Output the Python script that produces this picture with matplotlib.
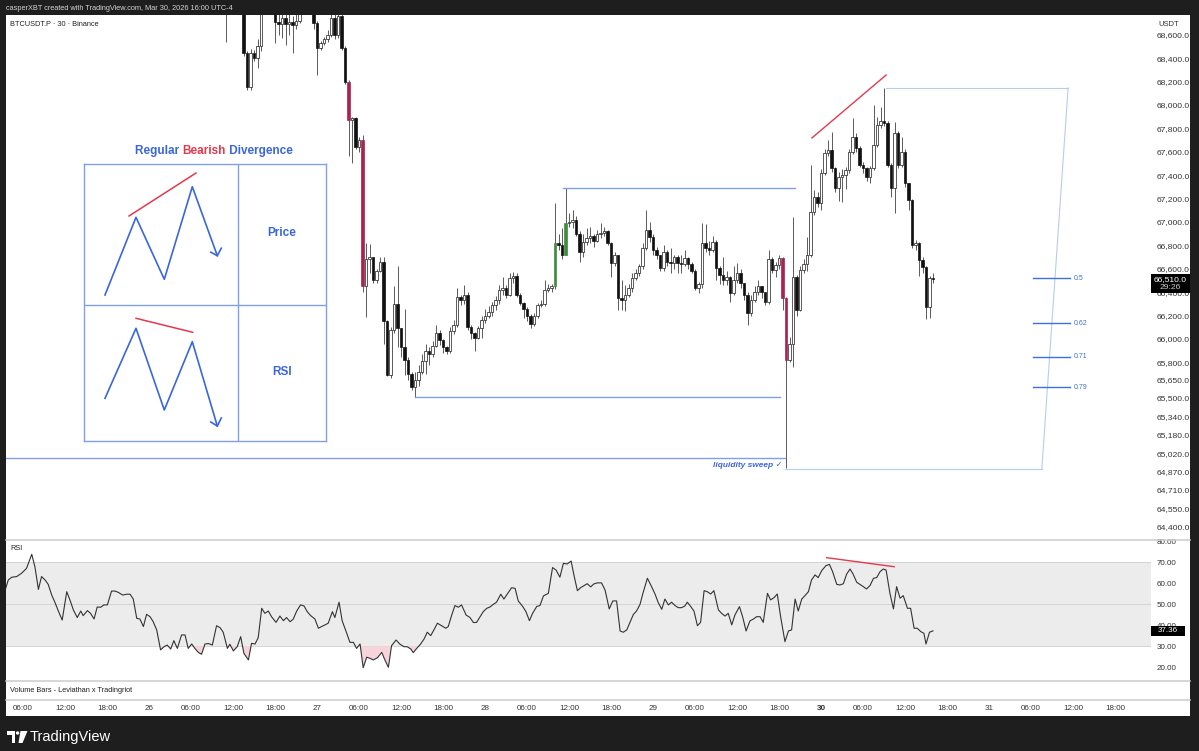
import matplotlib
matplotlib.use("Agg")
import matplotlib.pyplot as plt
from matplotlib.patches import Rectangle, Polygon, Circle
from matplotlib.lines import Line2D
from matplotlib.transforms import Affine2D
import numpy as np

plt.rcParams['font.family'] = ['Liberation Sans', 'DejaVu Sans']

W, H = 1199, 751

# bar index = half hours since Mar 25 00:00 (30m candles)
first_bar = 70
first_open = 68850
closes = [
    68800, 68900, 68950, 68900, 68850, 68440, 68150, 68440, 68400, 68500,
    68780, 68880, 68920, 68850, 68710, 68690, 68740, 68690, 68710, 68680,
    68720, 68800, 68850, 68900, 68880, 68700, 68490, 68530, 68560, 68600,
    68740, 68600, 68760, 68490, 68200, 67870, 67890, 67640, 67700, 66450,
    66680, 66700, 66500, 66580, 66660, 66150, 65690, 66080, 66300, 66090,
    65930, 65820, 65700, 65590, 65650, 65720, 65810, 65900, 65870, 65940,
    66050, 65990, 65930, 65900, 66070, 66120, 66360, 66330, 66380, 66100,
    66050, 66010, 66090, 66160, 66200, 66230, 66290, 66330, 66420, 66440,
    66380, 66520, 66540, 66380, 66310, 66260, 66200, 66130, 66200, 66290,
    66300, 66420, 66440, 66450, 66820, 66800, 66720, 66990, 67000, 67020,
    66900, 66740, 66830, 66860, 66880, 66840, 66900, 66910, 66920, 66820,
    66650, 66720, 66350, 66330, 66380, 66440, 66520, 66560, 66620, 66780,
    66930, 66870, 66760, 66720, 66610, 66740, 66660, 66650, 66700, 66650,
    66640, 66690, 66640, 66580, 66440, 66470, 66820, 66780, 66760, 66830,
    66610, 66550, 66500, 66530, 66390, 66500, 66560, 66480, 66380, 66220,
    66330, 66400, 66450, 66400, 66320, 66680, 66590, 66630, 66690, 66350,
    65820, 65960, 66530, 66250, 66590, 66640, 66720, 67085, 67210, 67160,
    67420, 67590, 67615, 67460, 67290, 67385, 67400, 67445, 67600, 67725,
    67630, 67490, 67460, 67385, 67460, 67660, 67830, 67860, 67850, 67490,
    67290, 67760, 67490, 67600, 67330, 67190, 66800, 66820, 66675, 66615,
    66275, 66520, 66510,
]
highs = [
    68950, 69000, 69050, 69000, 68950, 68900, 68460, 68480, 68470, 68560,
    68850, 68950, 69000, 68950, 68880, 68780, 68800, 68790, 68780, 68760,
    68790, 68880, 68930, 68980, 68960, 68900, 68720, 68550, 68580, 68640,
    68780, 68790, 68800, 68850, 68500, 68210, 67900, 67900, 67730, 67740,
    66820, 66810, 66700, 66600, 66700, 66700, 66160, 66100, 66450, 66620,
    66090, 66260, 65850, 65720, 65720, 65780, 65870, 65960, 65930, 65980,
    66120, 66080, 66000, 65940, 66100, 66160, 66440, 66380, 66460, 66400,
    66120, 66060, 66110, 66200, 66260, 66280, 66320, 66370, 66460, 66530,
    66460, 66560, 66570, 66560, 66390, 66320, 66270, 66210, 66220, 66310,
    66330, 66500, 66470, 66470, 67160, 66900, 66950, 67290, 67080, 67100,
    67050, 66920, 66900, 66950, 66960, 66900, 66930, 66990, 66960, 66930,
    66830, 66740, 66720, 66500, 66460, 66470, 66560, 66600, 66640, 66820,
    67100, 67000, 66900, 66790, 66720, 66800, 66760, 66780, 66720, 66720,
    66720, 66760, 66700, 66660, 66600, 66490, 66990, 66980, 66840, 66880,
    66850, 66620, 66700, 66580, 66540, 66620, 66650, 66600, 66480, 66400,
    66380, 66450, 66500, 66450, 66400, 66760, 66700, 66660, 66720, 66700,
    66360, 66020, 67040, 66550, 66620, 66680, 66870, 67490, 67270, 67260,
    67450, 67620, 67700, 67770, 67470, 67430, 67450, 67470, 67620, 67890,
    67760, 67650, 67510, 67470, 67480, 68000, 67900, 67980, 68145, 67860,
    67500, 67855, 67780, 67730, 67620, 67330, 67200, 66850, 66830, 66700,
    66620, 66540, 66560,
]
lows = [
    68540, 68790, 68850, 68820, 68800, 68420, 68130, 68130, 68380, 68320,
    68460, 68790, 68830, 68800, 68530, 68600, 68570, 68510, 68600, 68440,
    68650, 68700, 68780, 68800, 68800, 68650, 68260, 68470, 68510, 68540,
    68580, 68560, 68570, 68470, 68180, 67560, 67500, 67620, 67600, 66400,
    66190, 66560, 66480, 66480, 66570, 65960, 65680, 65670, 66050, 65930,
    65850, 65690, 65650, 65560, 65500, 65600, 65700, 65700, 65780, 65850,
    65930, 65950, 65880, 65870, 65880, 66040, 66100, 66290, 66300, 66080,
    66000, 65900, 66000, 66010, 66140, 66180, 66200, 66250, 66300, 66380,
    66350, 66370, 66480, 66360, 66290, 66180, 66150, 66090, 66110, 66180,
    66270, 66280, 66400, 66400, 66430, 66760, 66680, 66720, 66960, 66950,
    66880, 66660, 66700, 66800, 66820, 66790, 66830, 66860, 66880, 66800,
    66530, 66620, 66250, 66250, 66240, 66360, 66400, 66500, 66540, 66600,
    66760, 66830, 66720, 66680, 66580, 66580, 66620, 66560, 66600, 66560,
    66560, 66620, 66600, 66560, 66420, 66390, 66440, 66740, 66720, 66740,
    66500, 66470, 66460, 66460, 66320, 66380, 66480, 66440, 66330, 66120,
    66200, 66320, 66380, 66350, 66290, 66300, 66560, 66530, 66600, 66250,
    64900, 65800, 65760, 66200, 66240, 66560, 66580, 66700, 67060, 67130,
    67100, 67400, 67560, 67430, 67260, 67180, 67170, 67280, 67420, 67580,
    67600, 67470, 67420, 67350, 67330, 67440, 67640, 67800, 67820, 67470,
    67210, 67075, 67460, 67470, 67300, 67100, 66780, 66760, 66540, 66560,
    66170, 66180, 66480,
]
crimson_bars = [105, 109, 229, 230]
green_bars = [164, 167]

# RSI(14) vertices
rsi_bar = [
    6.9, 7.8, 8.8, 10.2, 11.6, 13.0, 14.5, 15.4, 16.4, 17.3, 18.3, 19.2, 20.2, 21.1,
    22.1, 23.2, 24.5, 25.4, 26.4, 27.5, 28.5, 29.2, 30.4, 31.3, 32.3, 33.2, 34.2, 35.1,
    36.1, 37.3, 38.3, 39.2, 40.5, 41.6, 42.6, 43.5, 44.5, 45.4, 46.4, 47.3, 48.3, 49.2,
    50.2, 51.3, 52.3, 53.2, 54.2, 55.1, 56.1, 57.3, 58.3, 59.2, 60.2, 61.1, 62.1, 63.0,
    64.0, 65.0, 66.1, 67.3, 68.3, 69.2, 70.4, 71.1, 72.1, 73.2, 74.2, 75.1, 76.4, 77.3,
    78.3, 79.2, 80.2, 81.1, 82.1, 83.0, 84.3, 85.4, 86.4, 87.3, 88.3, 89.2, 90.2, 91.3,
    92.3, 93.2, 94.2, 95.4, 96.4, 97.3, 98.3, 99.2, 100.4, 101.1, 102.3, 103.2, 104.5,
    105.4, 106.4, 107.3, 108.3, 109.2, 110.2, 111.1, 112.1, 113.3, 114.5, 115.4, 116.4,
    117.3, 118.6, 119.7, 120.9, 121.8, 122.8, 123.5, 124.5, 125.6, 126.6, 127.5, 128.5,
    129.4, 130.4, 131.6, 132.8, 133.5, 134.5, 135.4, 136.4, 137.3, 138.6,
    139.7, 140.7, 141.6, 142.6, 143.5, 144.5, 145.4, 146.4, 147.3, 148.5, 149.4, 150.7,
    151.6, 152.6, 153.5, 154.8, 155.7, 156.7, 157.6, 158.8, 159.7, 160.7, 162.1, 163.3,
    164.3, 165.4, 166.4, 167.5, 168.6, 169.5, 170.4, 171.3, 172.3, 173.2, 174.2, 175.1,
    176.1, 177.3, 178.3, 179.5, 180.5, 181.6, 182.6, 183.5, 184.5, 185.4, 186.4, 187.3,
    188.3, 189.2, 190.4, 191.6, 192.6, 193.5, 194.5, 195.4, 196.4, 197.3, 198.3, 199.2,
    200.2, 201.1, 201.8, 202.8, 203.7, 204.7, 205.6, 206.6, 207.5, 208.5, 209.4, 210.7,
    211.6, 212.6, 213.5, 214.5, 215.4, 216.7, 217.6, 218.6, 219.7, 220.7, 221.6, 222.6,
    223.5, 224.7, 225.6, 226.6, 227.5, 228.5, 229.7, 230.7, 231.6, 232.6, 233.5, 234.5,
    235.4, 236.4, 237.3, 238.3, 239.2, 240.2, 241.4, 242.4, 243.3, 244.5, 245.4, 246.4,
    247.3, 248.3, 249.2, 250.2, 251.1, 252.1, 253.0, 254.0, 255.0, 255.9, 256.9, 257.8,
    258.6, 259.7, 260.7, 261.6, 262.6, 263.5, 264.7, 265.6, 266.6, 267.5, 268.5, 269.4,
    270.0, 271.0, 272.0,
]
rsi_val = [
    56.8, 61.6, 62.9, 63.2, 64.8, 67.1, 73.8, 67.9, 57.1, 63.2, 61.6, 59.5, 54.4, 51.0,
    46.8, 42.5, 56.0, 52.1, 47.3, 43.7, 46.8, 44.6, 47.0, 45.7, 43.0, 48.7, 48.6, 49.7,
    49.7, 56.3, 56.3, 55.7, 54.4, 54.8, 54.8, 52.5, 43.3, 43.0, 39.4, 45.2, 44.1, 41.7,
    37.8, 28.3, 29.8, 30.6, 28.7, 32.7, 29.0, 35.4, 35.4, 29.0, 31.1, 29.0, 27.1, 26.2,
    31.1, 31.3, 30.6, 39.8, 38.9, 36.7, 29.0, 31.0, 27.8, 29.8, 34.6, 26.7, 23.5, 31.4,
    31.1, 34.1, 48.1, 45.7, 46.8, 44.1, 41.4, 44.4, 42.2, 43.7, 41.7, 42.9, 46.8, 49.7,
    49.2, 46.5, 44.6, 43.0, 38.6, 39.4, 40.2, 41.0, 46.5, 43.7, 51.0, 42.1, 36.2,
    31.9, 31.9, 29.0, 31.1, 19.8, 24.8, 24.3, 23.5, 24.6, 27.1, 23.5, 20.0,
    30.3, 33.0, 31.0, 29.8, 29.8, 28.7, 27.0, 29.0, 31.1, 33.5, 36.7, 35.1,
    37.8, 41.0, 39.8, 38.6, 39.4, 44.9, 49.4, 48.6, 49.7, 44.9,
    43.7, 41.3, 41.4, 44.1, 46.5, 48.1, 48.7, 50.0, 51.0, 54.8, 52.5, 55.7,
    57.9, 57.6, 51.6, 48.9, 46.5, 42.2, 45.7, 49.0, 49.4, 54.0, 55.2, 67.5,
    66.3, 62.9, 69.5, 69.2, 70.6, 63.2, 56.5, 57.9, 58.9, 59.8, 58.3, 59.7,
    60.2, 60.2, 56.8, 47.8, 51.6, 51.6, 37.3, 36.7, 37.8, 41.3, 45.2, 46.8,
    50.0, 55.7, 62.4, 58.4, 54.8, 50.8, 47.6, 52.5, 49.7, 51.0, 49.4, 48.4,
    48.4, 49.2, 51.0, 48.9, 46.8, 39.8, 41.4, 56.5, 56.0, 54.9, 56.5, 47.3,
    45.7, 44.4, 45.7, 40.2, 44.9, 48.9, 44.1, 37.3, 42.1, 43.0, 44.1, 44.1,
    41.4, 55.2, 52.1, 53.2, 54.9, 43.7, 32.2, 37.3, 37.8, 52.5, 46.8, 52.5,
    54.1, 56.0, 61.6, 64.0, 62.7, 66.0, 68.4, 69.0, 65.6, 59.5, 59.2, 59.8,
    64.3, 66.8, 64.3, 60.5, 59.5, 58.4, 57.3, 58.9, 62.4, 62.7, 65.6, 66.8,
    66.3, 55.2, 47.8, 58.4, 52.9, 54.1, 48.1, 48.1, 38.6, 38.6, 37.0, 36.2,
    31.1, 36.7, 37.36,
]

price_ticks = [68600, 68400, 68200, 68000, 67800, 67600, 67400, 67200, 67000, 66800,
               66600, 66400, 66200, 66000, 65800, 65650, 65500, 65340, 65180, 65020,
               64870, 64710, 64550, 64400]
rsi_ticks = [80, 70, 60, 50, 40, 30, 20]
time_ticks = [12, 24, 36, 48, 60, 72, 84, 96, 108, 120, 132, 144, 156, 168, 180,
              192, 204, 216, 228, 240, 252, 264, 276, 288, 300, 312, 324]
time_labels = ['06:00', '12:00', '18:00', '26', '06:00', '12:00', '18:00', '27',
               '06:00', '12:00', '18:00', '28', '06:00', '12:00', '18:00', '29',
               '06:00', '12:00', '18:00', '30', '06:00', '12:00', '18:00', '31',
               '06:00', '12:00', '18:00']

# chart drawings
swing_high = 68145
swing_low = 64890
swing_high_bar, sweep_bar = 258.6, 229.7
fib_levels = [0.5, 0.618, 0.705, 0.786]
fib_names = ['0.5', '0.62', '0.71', '0.79']
level_prices = [67290, 65500, 64985]
level_from = [166.3, 124.0, 0.0]
level_to = [232.6, 228.3, 229.7]
price_div_bars = [237.4, 258.6]
price_div_vals = [67718, 68256]
rsi_div_bars = [241.6, 260.9]
rsi_div_vals = [72.2, 67.9]

# inset schematic (units inside the divergence box)
sketch_x = [21, 52, 80.3, 108.3, 133.3]
sketch_price = [146, 223.7, 161.7, 254.3, 185.3]
sketch_rsi = [42.7, 112.7, 31, 99.3, 15]
sketch_price_red = ([45, 112], [225, 268])
sketch_rsi_red = ([52, 108.7], [122.7, 108.7])

BLUE = '#3a66dd'
RED = '#e2394f'
LINE_BLUE = '#7f9fe8'


def box(x0, y0, x1, y1):
    return [x0 / W, 1 - y1 / H, (x1 - x0) / W, (y1 - y0) / H]


fig = plt.figure(figsize=(W / 100, H / 100), dpi=100, facecolor='#1e1e1e')
px = Affine2D().scale(1 / W, -1 / H).translate(0, 1) + fig.transFigure

# white chart canvas and pane separators
fig.add_artist(Rectangle((6, 15), 1184, 701, transform=px, fc='white', ec='none', zorder=-5))
for yy in [540, 681, 700]:
    fig.add_artist(Line2D([6, 1190], [yy, yy], transform=px, color='#cccccc', lw=1.1, zorder=4))

k_left = 12 + (6 - 23) / 3.5
k_right = 12 + (1151 - 23) / 3.5

ax = fig.add_axes(box(6, 15, 1151, 540))
ax_rsi = fig.add_axes(box(6, 541, 1151, 681), sharex=ax)
ax_time = fig.add_axes(box(6, 700, 1151, 716), sharex=ax)
for a in (ax, ax_rsi, ax_time):
    a.set_facecolor('none')
    for s in a.spines.values():
        s.set_visible(False)

# ---------- candles ----------
c = np.array(closes, dtype=float)
o = np.concatenate([[first_open], c[:-1]])
hi = np.maximum(np.array(highs, dtype=float), np.maximum(o, c))
lo = np.minimum(np.array(lows, dtype=float), np.minimum(o, c))
bars = np.arange(first_bar, first_bar + len(c))

faces, edges = [], []
for b, oo, cc in zip(bars, o, c):
    if b in crimson_bars:
        faces.append('#a8244f'); edges.append('#a8244f')
    elif b in green_bars:
        faces.append('#3f8c3f'); edges.append('#3f8c3f')
    elif cc >= oo:
        faces.append('white'); edges.append('#1a1a1a')
    else:
        faces.append('#111111'); edges.append('#111111')

ax.vlines(bars, lo, hi, color='#5a5a5a', lw=0.7, zorder=2)
ax.bar(bars, np.maximum(np.abs(c - o), 8), bottom=np.minimum(o, c), width=0.72,
       color=faces, edgecolor=edges, linewidth=0.5, zorder=3)

ax.set_xlim(k_left, k_right)
ax.set_ylim(64282, 68769)
ax.yaxis.tick_right()
ax.set_yticks(price_ticks)
ax.set_yticklabels([f'{v:,.1f}' for v in price_ticks])
ax.tick_params(axis='y', length=0, pad=4, labelsize=6.1, labelcolor='#333333')
ax.tick_params(axis='x', bottom=False, labelbottom=False)

# horizontal levels
for p, a0, a1 in zip(level_prices, level_from, level_to):
    ax.plot([a0, a1], [p, p], color=LINE_BLUE, lw=1, zorder=4)
ax.text(228.9, 64923, 'liquidity sweep ✓', ha='right', va='center', color=BLUE,
        fontsize=6, style='italic', weight='bold', zorder=5)

# price divergence line
ax.plot(price_div_bars, price_div_vals, color=RED, lw=1, zorder=5)

# fib retracement frame
top_end, bot_end = 310.6, 303.1
ax.plot([swing_high_bar, top_end], [swing_high, swing_high], color='#b8ccf0', lw=0.8, zorder=4)
ax.plot([top_end, bot_end], [swing_high, swing_low], color='#b8ccf0', lw=0.8, zorder=4)
ax.plot([sweep_bar, bot_end], [swing_low, swing_low], color='#b8ccf0', lw=0.8, zorder=4)
for f, name in zip(fib_levels, fib_names):
    lvl = swing_high - f * (swing_high - swing_low)
    ax.plot([300.6, 311.1], [lvl, lvl], color='#3d6fdd', lw=1, zorder=4)
    ax.text(312.2, lvl, name, va='center', ha='left', fontsize=5, color='#3d6fdd')

# last price label
yt = ax.get_yaxis_transform()
last = closes[-1]
ax.add_patch(Rectangle((1.0, last - 117), 0.034, 163, transform=yt, clip_on=False,
                       fc='black', ec='none', zorder=6))
ax.text(1.017, last, f'{last:,.1f}', transform=yt, ha='center', va='center',
        color='white', fontsize=6.1, clip_on=False, zorder=7)
ax.text(1.017, last - 70, '29:26', transform=yt, ha='center', va='center',
        color='#cccccc', fontsize=6.1, clip_on=False, zorder=7)

# ---------- RSI ----------
ax_rsi.axhspan(30, 70, color='#ececec', lw=0, zorder=0)
for lvl in [70, 50, 30]:
    ax_rsi.axhline(lvl, color='#d0d0d0', lw=0.6, zorder=1)
rb = np.array(rsi_bar)
rv = np.array(rsi_val)
ax_rsi.fill_between(rb, rv, 30, where=rv < 30, interpolate=True, color='#f7d3db', lw=0, zorder=2)
ax_rsi.plot(rb, rv, color='#333333', lw=0.8, zorder=3)
ax_rsi.plot(rsi_div_bars, rsi_div_vals, color=RED, lw=1, zorder=4)
ax_rsi.set_ylim(13.48, 80.14)
ax_rsi.yaxis.tick_right()
ax_rsi.set_yticks(rsi_ticks)
ax_rsi.set_yticklabels([f'{v:.2f}' for v in rsi_ticks])
ax_rsi.tick_params(axis='y', length=0, pad=4, labelsize=5.8, labelcolor='#333333')
ax_rsi.tick_params(axis='x', bottom=False, labelbottom=False)
ryt = ax_rsi.get_yaxis_transform()
ax_rsi.add_patch(Rectangle((1.0, rsi_val[-1] - 2.5), 0.03, 5.0, transform=ryt, clip_on=False,
                           fc='black', ec='none', zorder=6))
ax_rsi.text(1.015, rsi_val[-1], f'{rsi_val[-1]:.2f}', transform=ryt, ha='center', va='center',
            color='white', fontsize=5.8, clip_on=False, zorder=7)

# ---------- time axis ----------
ax_time.set_ylim(0, 1)
ax_time.set_yticks([])
ax_time.tick_params(axis='x', bottom=False, labelbottom=False)
for t, lab in zip(time_ticks, time_labels):
    ax_time.text(t, 0.5, lab, ha='center', va='center', fontsize=5.8, color='#333333',
                 weight='bold' if lab == '30' else 'normal')

# ---------- divergence schematic ----------
axd = fig.add_axes(box(84, 164, 325.7, 441))
axd.set_xlim(0, 241.7)
axd.set_ylim(0, 277)
axd.set_xticks([]); axd.set_yticks([])
axd.set_facecolor('white')
for s in axd.spines.values():
    s.set_color(LINE_BLUE); s.set_linewidth(1)
axd.axvline(153.7, color=LINE_BLUE, lw=1)
axd.axhline(136, color=LINE_BLUE, lw=1)
axd.plot(sketch_x, sketch_price, color=BLUE, lw=1.2)
axd.plot(sketch_x, sketch_rsi, color=BLUE, lw=1.2)
axd.plot(*sketch_price_red, color=RED, lw=1.1)
axd.plot(*sketch_rsi_red, color=RED, lw=1.1)
for tip_y, arm_y in [(sketch_price[-1], sketch_price[-1] + 5.5), (sketch_rsi[-1], sketch_rsi[-1] + 6)]:
    axd.plot([sketch_x[-1] - 6.5, sketch_x[-1], sketch_x[-1] + 4], [arm_y - 2, tip_y, arm_y + 2],
             color=BLUE, lw=1.2)
axd.text(198, 207.7, 'Price', ha='center', va='center', color=BLUE, fontsize=8.5, weight='bold')
axd.text(198, 69.3, 'RSI', ha='center', va='center', color=BLUE, fontsize=8.5, weight='bold')
tx = axd.text(51, 290, 'Regular ', ha='left', va='center', color=BLUE, fontsize=8.5,
              weight='bold', clip_on=False)
tx2 = axd.annotate('Bearish', xycoords=tx, xy=(1, 0.5), va='center', ha='left',
                   color=RED, fontsize=8.5, weight='bold')
axd.annotate(' Divergence', xycoords=tx2, xy=(1, 0.5), va='center', ha='left',
             color=BLUE, fontsize=8.5, weight='bold')

# ---------- frame texts ----------
fig.add_artist(Rectangle((1151, 15), 39, 17, transform=px, fc='white', ec='none', zorder=5))
fig.text(6, 8, 'casperXBT created with TradingView.com, Mar 30, 2026 16:00 UTC-4', transform=px,
         color='#d4d4d4', fontsize=5.3, va='center', ha='left')
fig.text(10, 24, 'BTCUSDT.P · 30 · Binance', transform=px, color='#222222', fontsize=5.3,
         va='center', ha='left')
fig.text(1158, 24, 'USDT', transform=px, color='#333333', fontsize=5.5, va='center', ha='left',
         zorder=6)
fig.text(10, 549, 'RSI', transform=px, color='#222222', fontsize=5.3, va='center', ha='left')
fig.text(10, 691, 'Volume Bars - Leviathan x Tradingriot', transform=px, color='#222222',
         fontsize=5.3, va='center', ha='left')

# TradingView logo
fig.add_artist(Polygon([(7, 731), (15, 731), (15, 743), (11.5, 743), (11.5, 734.5), (7, 734.5)],
                       closed=True, transform=px, fc='white', ec='none'))
fig.add_artist(Circle((17.6, 733), 1.7, transform=px, fc='white', ec='none'))
fig.add_artist(Polygon([(20.5, 731), (27.5, 731), (22.5, 743), (18.5, 743)],
                       closed=True, transform=px, fc='white', ec='none'))
fig.text(30, 737, 'TradingView', transform=px, color='white', fontsize=10.5, va='center', ha='left')

fig.savefig('out.png', dpi=100, facecolor=fig.get_facecolor())
